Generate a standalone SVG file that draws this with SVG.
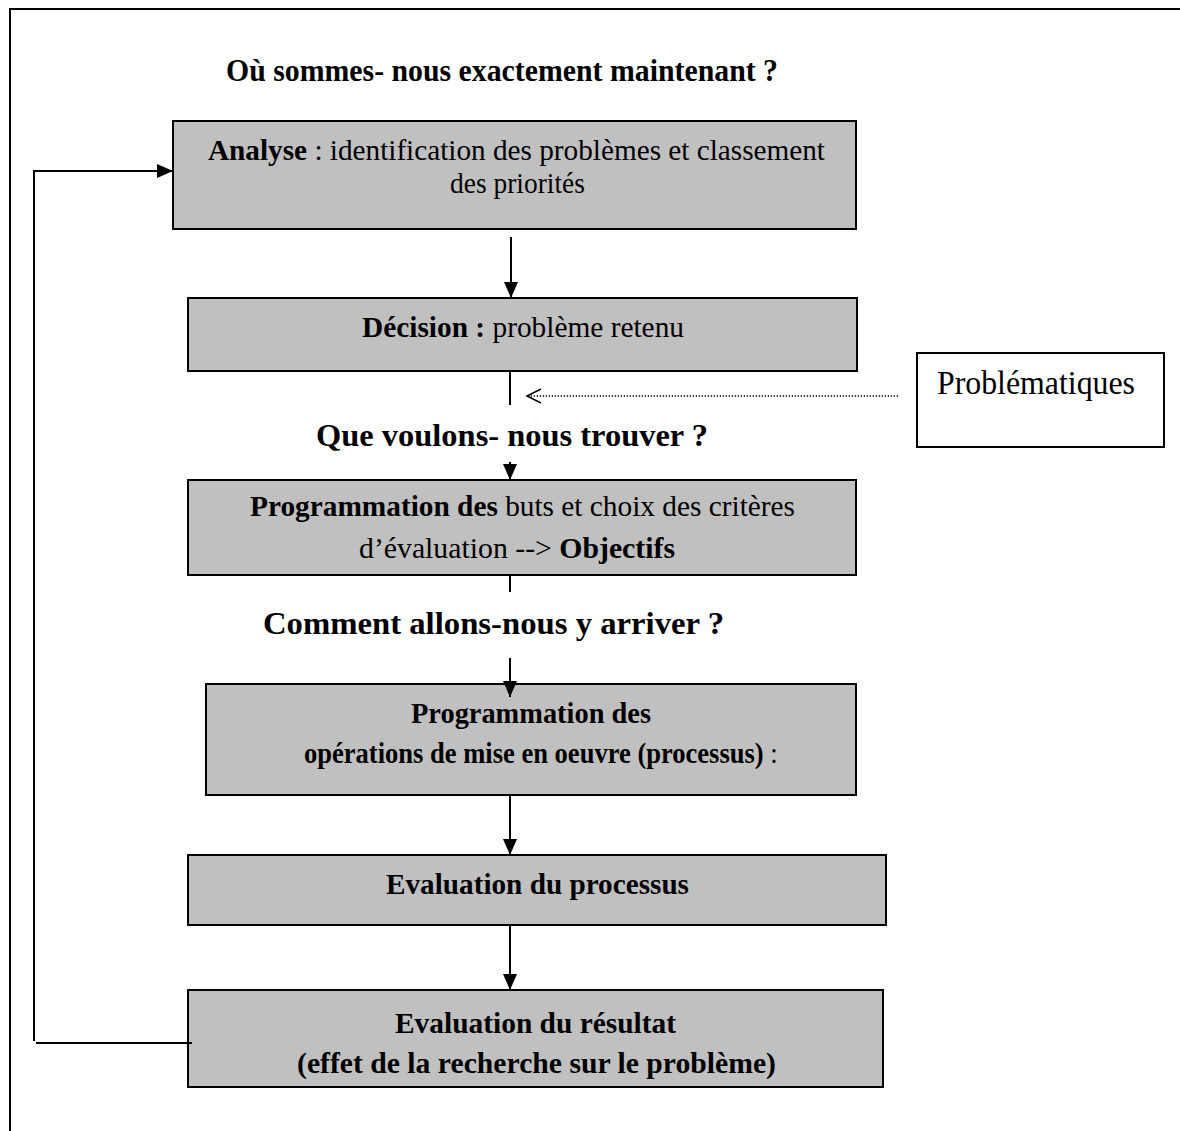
<svg xmlns="http://www.w3.org/2000/svg" width="1180" height="1131" viewBox="0 0 1180 1131">
  <style>
    text { font-family: "Liberation Serif", "Times New Roman", serif; font-size: 30px; fill: #000; }
    .b { font-weight: bold; }
    .h { font-weight: bold; font-size: 31px; }
    .box { fill: #c0c0c0; stroke: #000; stroke-width: 2; }
    .plain { fill: #fff; stroke: #000; stroke-width: 2; }
    .wire { fill: none; stroke: #000; stroke-width: 2; }
  </style>
  <defs>
    <marker id="head" markerUnits="userSpaceOnUse" markerWidth="16" markerHeight="14" refX="16" refY="7" orient="auto">
      <path d="M0,0 L16,7 L0,14 Z" fill="#000"/>
    </marker>
  </defs>

  <rect width="1180" height="1131" fill="#fff"/>

  <!-- outer frame (continues past the right and bottom edges) -->
  <path class="wire" d="M10,1131 L10,9 L1180,9"/>

  <!-- section headings -->
  <text class="h" x="226" y="81" textLength="552" lengthAdjust="spacingAndGlyphs">Où sommes- nous exactement maintenant ?</text>
  <text class="h" x="316" y="446" textLength="392" lengthAdjust="spacingAndGlyphs">Que voulons- nous trouver ?</text>
  <text class="h" x="263" y="634" textLength="461" lengthAdjust="spacingAndGlyphs">Comment allons-nous y arriver ?</text>

  <g id="analyse">
    <rect class="box" x="173" y="121" width="683" height="108"/>
    <text x="208" y="160" textLength="617" lengthAdjust="spacingAndGlyphs"><tspan class="b">Analyse</tspan> : identification des problèmes et classement</text>
    <text x="450" y="193" textLength="135" lengthAdjust="spacingAndGlyphs">des priorités</text>
  </g>

  <g id="decision">
    <rect class="box" x="188" y="298" width="669" height="73"/>
    <text x="362" y="337" textLength="322" lengthAdjust="spacingAndGlyphs"><tspan class="b">Décision :</tspan> problème retenu</text>
  </g>

  <g id="problematiques">
    <rect class="plain" x="917" y="353" width="247" height="94"/>
    <text x="937" y="394" style="font-size:33px" textLength="198" lengthAdjust="spacingAndGlyphs">Problématiques</text>
  </g>

  <g id="objectifs">
    <rect class="box" x="188" y="480" width="668" height="95"/>
    <text x="250" y="516" textLength="545" lengthAdjust="spacingAndGlyphs"><tspan class="b">Programmation des</tspan> buts et choix des critères</text>
    <text x="359" y="558" textLength="316" lengthAdjust="spacingAndGlyphs">d’évaluation --&gt; <tspan class="b">Objectifs</tspan></text>
  </g>

  <g id="operations">
    <rect class="box" x="206" y="684" width="650" height="111"/>
    <text class="b" x="411" y="723" textLength="240" lengthAdjust="spacingAndGlyphs">Programmation des</text>
    <!-- second line is set in a horizontally condensed face -->
    <text transform="translate(304,763) scale(0.885,1)"><tspan class="b">opérations de mise en oeuvre (processus)</tspan> :</text>
  </g>

  <g id="eval-processus">
    <rect class="box" x="188" y="855" width="698" height="70"/>
    <text class="b" x="386" y="894" textLength="303" lengthAdjust="spacingAndGlyphs">Evaluation du processus</text>
  </g>

  <g id="eval-resultat">
    <rect class="box" x="188" y="990" width="695" height="97"/>
    <text class="b" x="395" y="1033" textLength="281" lengthAdjust="spacingAndGlyphs">Evaluation du résultat</text>
    <text class="b" x="297" y="1073" textLength="479" lengthAdjust="spacingAndGlyphs">(effet de la recherche sur le problème)</text>
  </g>

  <g id="connectors">
    <line class="wire" x1="511" y1="237" x2="511" y2="298" marker-end="url(#head)"/>
    <line class="wire" x1="510" y1="371" x2="510" y2="405"/>
    <line x1="898" y1="396" x2="528" y2="396" stroke="#000" stroke-width="1.3" stroke-dasharray="1.3,1.7"/>
    <path d="M541,389 L527,396 L541,403" fill="none" stroke="#000" stroke-width="1.5"/>
    <line class="wire" x1="510" y1="462" x2="510" y2="480" marker-end="url(#head)"/>
    <line class="wire" x1="510" y1="575" x2="510" y2="592"/>
    <line class="wire" x1="510" y1="658" x2="510" y2="697" marker-end="url(#head)"/>
    <line class="wire" x1="510" y1="795" x2="510" y2="855" marker-end="url(#head)"/>
    <line class="wire" x1="510" y1="925" x2="510" y2="990" marker-end="url(#head)"/>
    <path class="wire" d="M192,1043 L36,1043"/>
    <path class="wire" d="M34,1041 L34,171 L173,171" marker-end="url(#head)"/>
  </g>
</svg>
